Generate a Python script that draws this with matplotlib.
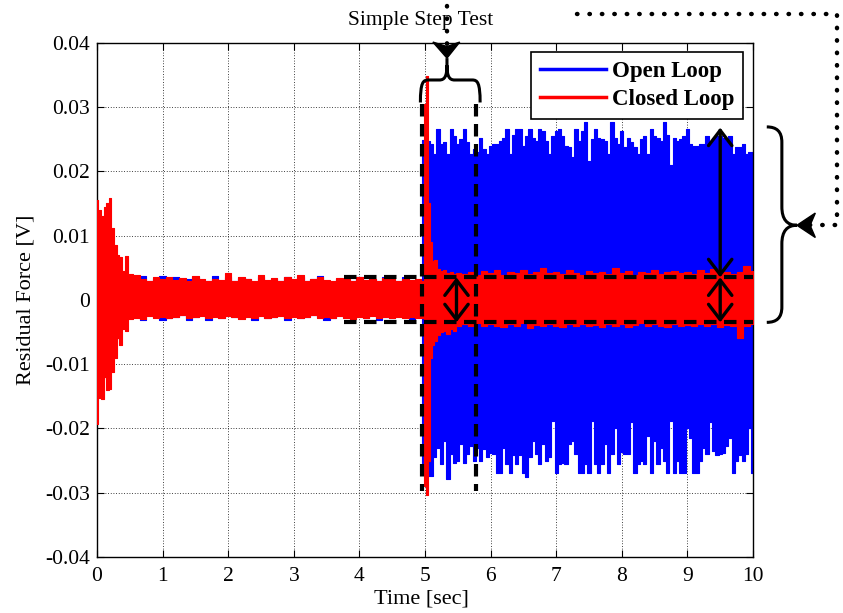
import numpy as np
import matplotlib
matplotlib.use('Agg')
import matplotlib.pyplot as plt
from matplotlib.path import Path
from matplotlib.patches import PathPatch, Polygon, FancyArrowPatch
from matplotlib.lines import Line2D

plt.rcParams['font.family'] = ['Liberation Serif', 'DejaVu Serif']

# ---- Open loop (blue) envelope ----
# before the step: 0.0 .. 4.9 s, every 0.1 s
blue_pre_hi = [0.0120, 0.0120, 0.0100, 0.0060, 0.0040, 0.0030, 0.0032, 0.0037, 0.0029, 0.0033,
               0.0037, 0.0031, 0.0036, 0.0030, 0.0032, 0.0036, 0.0030, 0.0029, 0.0037, 0.0030,
               0.0036, 0.0029, 0.0034, 0.0032, 0.0028, 0.0036, 0.0030, 0.0033, 0.0029, 0.0036,
               0.0031, 0.0035, 0.0029, 0.0032, 0.0037, 0.0030, 0.0028, 0.0033, 0.0031, 0.0029,
               0.0036, 0.0030, 0.0032, 0.0029, 0.0036, 0.0031, 0.0029, 0.0035, 0.0030, 0.0031]
blue_pre_lo = [-0.0150, -0.0120, -0.0100, -0.0060, -0.0040, -0.0029, -0.0026, -0.0031, -0.0024, -0.0027,
               -0.0031, -0.0028, -0.0026, -0.0023, -0.0031, -0.0026, -0.0024, -0.0032, -0.0025, -0.0028,
               -0.0024, -0.0026, -0.0029, -0.0025, -0.0031, -0.0024, -0.0028, -0.0026, -0.0024, -0.0031,
               -0.0025, -0.0028, -0.0026, -0.0023, -0.0027, -0.0031, -0.0028, -0.0024, -0.0026, -0.0030,
               -0.0025, -0.0028, -0.0024, -0.0031, -0.0026, -0.0028, -0.0025, -0.0027, -0.0031, -0.0027]
# after the step: 5.00 .. 10.00 s, every 0.05 s
blue_post_hi = [0.0248, 0.0247, 0.0242, 0.0227, 0.0265, 0.0242, 0.0245, 0.0227, 0.0265, 0.0255,
                0.0242, 0.0250, 0.0265, 0.0245, 0.0227, 0.0235, 0.0230, 0.0252, 0.0235, 0.0227,
                0.0240, 0.0242, 0.0242, 0.0247, 0.0252, 0.0265, 0.0227, 0.0257, 0.0265, 0.0265,
                0.0240, 0.0255, 0.0265, 0.0252, 0.0247, 0.0265, 0.0262, 0.0247, 0.0227, 0.0255,
                0.0262, 0.0265, 0.0255, 0.0240, 0.0237, 0.0222, 0.0265, 0.0247, 0.0262, 0.0276,
                0.0216, 0.0250, 0.0265, 0.0252, 0.0250, 0.0247, 0.0227, 0.0276, 0.0252, 0.0242,
                0.0262, 0.0237, 0.0252, 0.0245, 0.0237, 0.0227, 0.0250, 0.0255, 0.0227, 0.0265,
                0.0255, 0.0252, 0.0247, 0.0276, 0.0257, 0.0210, 0.0252, 0.0247, 0.0250, 0.0255,
                0.0265, 0.0242, 0.0240, 0.0240, 0.0242, 0.0242, 0.0255, 0.0242, 0.0252, 0.0255,
                0.0255, 0.0252, 0.0247, 0.0255, 0.0227, 0.0237, 0.0237, 0.0242, 0.0227, 0.0230,
                0.0230]
blue_post_lo = [-0.0270, -0.0274, -0.0274, -0.0245, -0.0230, -0.0256, -0.0220, -0.0278, -0.0240, -0.0254,
                -0.0250, -0.0225, -0.0254, -0.0240, -0.0228, -0.0250, -0.0230, -0.0250, -0.0232, -0.0245,
                -0.0238, -0.0240, -0.0269, -0.0269, -0.0230, -0.0255, -0.0269, -0.0242, -0.0256, -0.0242,
                -0.0269, -0.0276, -0.0245, -0.0219, -0.0240, -0.0256, -0.0225, -0.0250, -0.0245, -0.0188,
                -0.0269, -0.0256, -0.0254, -0.0256, -0.0225, -0.0219, -0.0240, -0.0269, -0.0269, -0.0256,
                -0.0269, -0.0188, -0.0256, -0.0269, -0.0256, -0.0225, -0.0269, -0.0240, -0.0200, -0.0256,
                -0.0236, -0.0240, -0.0240, -0.0190, -0.0269, -0.0256, -0.0250, -0.0256, -0.0212, -0.0269,
                -0.0219, -0.0256, -0.0230, -0.0250, -0.0269, -0.0188, -0.0269, -0.0250, -0.0269, -0.0269,
                -0.0200, -0.0215, -0.0269, -0.0269, -0.0250, -0.0230, -0.0240, -0.0190, -0.0235, -0.0242,
                -0.0240, -0.0238, -0.0228, -0.0215, -0.0269, -0.0250, -0.0242, -0.0250, -0.0240, -0.0200,
                -0.0269]

# ---- Closed loop (red) envelope ----
red_t = [0.00, 0.02, 0.05, 0.08, 0.12, 0.16, 0.20, 0.24, 0.28, 0.32, 0.36, 0.40, 0.45, 0.50,
         0.6, 0.7, 0.8, 0.9, 1.0, 1.1, 1.2, 1.3, 1.4, 1.5, 1.6, 1.7, 1.8, 1.9,
         2.0, 2.1, 2.2, 2.3, 2.4, 2.5, 2.6, 2.7, 2.8, 2.9, 3.0, 3.1, 3.2, 3.3, 3.4, 3.5,
         3.6, 3.7, 3.8, 3.9, 4.0, 4.1, 4.2, 4.3, 4.4, 4.5, 4.6, 4.7, 4.8, 4.9, 4.98,
         5.00, 5.03, 5.06, 5.09, 5.12, 5.16, 5.20, 5.25, 5.30, 5.35, 5.40, 5.45, 5.50,
         5.6, 5.7, 5.8, 5.9, 6.0, 6.1, 6.2, 6.3, 6.4, 6.5, 6.6, 6.7, 6.8, 6.9,
         7.0, 7.1, 7.2, 7.3, 7.4, 7.5, 7.6, 7.7, 7.8, 7.9, 8.0, 8.1, 8.2, 8.3, 8.4,
         8.5, 8.6, 8.7, 8.8, 8.9, 9.0, 9.1, 9.2, 9.3, 9.4, 9.5, 9.6, 9.7, 9.8, 9.9, 10.0]
red_hi = [0.0155, 0.0120, 0.0140, 0.0130, 0.0145, 0.0150, 0.0158, 0.0112, 0.0085, 0.0070,
          0.0066, 0.0045, 0.0068, 0.0040,
          0.0038, 0.0033, 0.0030, 0.0035, 0.0032, 0.0036, 0.0031, 0.0034, 0.0030, 0.0037,
          0.0032, 0.0029, 0.0033, 0.0031,
          0.0041, 0.0030, 0.0036, 0.0033, 0.0029, 0.0038, 0.0031, 0.0034, 0.0030, 0.0035,
          0.0032, 0.0038, 0.0030, 0.0033, 0.0036, 0.0031,
          0.0029, 0.0034, 0.0032, 0.0030, 0.0035, 0.0031, 0.0033, 0.0030, 0.0034, 0.0032,
          0.0030, 0.0033, 0.0031, 0.0032, 0.0030,
          0.0305, 0.0348, 0.0150, 0.0090, 0.0060, 0.0062, 0.0048, 0.0045, 0.0047, 0.0042,
          0.0044, 0.0040, 0.0042,
          0.0040, 0.0044, 0.0038, 0.0045, 0.0041, 0.0047, 0.0039, 0.0044, 0.0042, 0.0046,
          0.0040, 0.0043, 0.0049, 0.0041,
          0.0044, 0.0040, 0.0046, 0.0042, 0.0039, 0.0045, 0.0041, 0.0043, 0.0040, 0.0050,
          0.0042, 0.0045, 0.0039, 0.0044, 0.0041,
          0.0047, 0.0040, 0.0043, 0.0045, 0.0041, 0.0044, 0.0040, 0.0046, 0.0042, 0.0048,
          0.0041, 0.0044, 0.0040, 0.0043, 0.0052, 0.0045]
red_lo = [-0.0193, -0.0150, -0.0152, -0.0155, -0.0120, -0.0140, -0.0139, -0.0113, -0.0090, -0.0060,
          -0.0070, -0.0045, -0.0048, -0.0030,
          -0.0028, -0.0030, -0.0025, -0.0028, -0.0026, -0.0029, -0.0027, -0.0024, -0.0029, -0.0027,
          -0.0025, -0.0028, -0.0026, -0.0029,
          -0.0025, -0.0027, -0.0030, -0.0026, -0.0028, -0.0025, -0.0029, -0.0027, -0.0025, -0.0028,
          -0.0026, -0.0029, -0.0027, -0.0024, -0.0028, -0.0026,
          -0.0029, -0.0025, -0.0028, -0.0030, -0.0026, -0.0029, -0.0025, -0.0028, -0.0027, -0.0029,
          -0.0026, -0.0028, -0.0027, -0.0029, -0.0028,
          -0.0290, -0.0303, -0.0250, -0.0090, -0.0070, -0.0064, -0.0055, -0.0050, -0.0048, -0.0053,
          -0.0046, -0.0048, -0.0040,
          -0.0038, -0.0040, -0.0036, -0.0041, -0.0037, -0.0040, -0.0043, -0.0038, -0.0041, -0.0036,
          -0.0044, -0.0039, -0.0041, -0.0037,
          -0.0040, -0.0042, -0.0038, -0.0040, -0.0037, -0.0041, -0.0039, -0.0042, -0.0037, -0.0040,
          -0.0038, -0.0043, -0.0039, -0.0036, -0.0041,
          -0.0038, -0.0040, -0.0042, -0.0037, -0.0040, -0.0039, -0.0041, -0.0038, -0.0040, -0.0037,
          -0.0042, -0.0039, -0.0041, -0.0060, -0.0040, -0.0038]

x_ticks = list(range(0, 11))
y_ticks = [-0.04, -0.03, -0.02, -0.01, 0.0, 0.01, 0.02, 0.03, 0.04]
y_tick_labels = ['-0.04', '-0.03', '-0.02', '-0.01', '0', '0.01', '0.02', '0.03', '0.04']

blue_t = np.concatenate([np.arange(len(blue_pre_hi)) * 0.1,
                         5.0 + np.arange(len(blue_post_hi)) * 0.05])
blue_hi = np.array(blue_pre_hi + blue_post_hi)
blue_lo = np.array(blue_pre_lo + blue_post_lo)

fig = plt.figure(figsize=(8.43, 6.13), dpi=100)
ax = fig.add_axes([97 / 843, 1 - 557 / 613, 656 / 843, (557 - 42.7) / 613])

ax.fill_between(blue_t, blue_lo, blue_hi, step='mid', facecolor='#0000ff',
                edgecolor='#0000ff', linewidth=0.8, zorder=2)
ax.fill_between(red_t, red_lo, red_hi, step='mid', facecolor='#ff0000',
                edgecolor='#ff0000', linewidth=0.8, zorder=3)

ax.set_xlim(0, 10)
ax.set_ylim(-0.04, 0.04)
ax.set_xticks(x_ticks)
ax.set_yticks(y_ticks)
ax.set_yticklabels(y_tick_labels)
ax.tick_params(direction='in', length=5, width=0.8, top=True, right=True,
               labelsize=15.5, pad=5)
ax.tick_params(axis='x', pad=7)
ax.set_axisbelow(True)
ax.grid(True, color='k', linestyle=(0, (1, 2.2)), linewidth=0.6)
for sp in ax.spines.values():
    sp.set_linewidth(1.0)

ax.set_xlabel('Time [sec]', fontsize=16, va='top')
ax.xaxis.set_label_coords(0.495, -0.064)
ax.set_ylabel('Residual Force [V]', fontsize=16)
ax.yaxis.set_label_coords(-0.094, 0.5)

leg_handles = [Line2D([], [], color='#0000ff', lw=2.5),
               Line2D([], [], color='#ff0000', lw=2.5)]
leg = ax.legend(leg_handles, ['Open Loop', 'Closed Loop'], loc='upper right',
                bbox_to_anchor=(0.985, 0.981), borderaxespad=0, fancybox=False,
                framealpha=1, edgecolor='k', handlelength=2.9, handletextpad=0.25,
                labelspacing=0.3, borderpad=0.38, prop={'weight': 'bold', 'size': 16.5})
leg.get_frame().set_linewidth(1.2)
leg.set_zorder(6)

# ---- annotations ----
dash = (0, (3, 1.8))
for yv in (0.0035, -0.0035):
    ax.plot([3.77, 10.0], [yv, yv], color='k', lw=3, linestyle=dash, zorder=5, clip_on=False)
for xv in (4.96, 5.78):
    ax.plot([xv, xv], [0.0305, -0.0298], color='k', lw=3, linestyle=dash, zorder=5)

arrow_kw = dict(arrowstyle='<->,head_length=0.55,head_width=0.42', mutation_scale=20,
                color='k', lw=2.4, zorder=7, shrinkA=0, shrinkB=0, clip_on=False)
for (x0, y0, y1) in [(5.48, 0.0035, -0.0035), (9.5, 0.0035, -0.0035), (9.5, 0.0268, 0.0035)]:
    ax.add_patch(FancyArrowPatch((x0, y0), (x0, y1), **arrow_kw))

# brace above the step
top_brace = Path(
    [(4.93, 0.0307), (4.93, 0.0338), (4.97, 0.0342), (5.05, 0.0342),
     (5.22, 0.0342), (5.30, 0.0342), (5.335, 0.0348), (5.335, 0.0365),
     (5.335, 0.0376), (5.335, 0.0365),
     (5.335, 0.0348), (5.37, 0.0342), (5.45, 0.0342),
     (5.72, 0.0342), (5.80, 0.0342), (5.84, 0.0338), (5.84, 0.0307)],
    [Path.MOVETO, Path.CURVE4, Path.CURVE4, Path.CURVE4,
     Path.LINETO, Path.CURVE4, Path.CURVE4, Path.CURVE4,
     Path.LINETO, Path.MOVETO,
     Path.CURVE4, Path.CURVE4, Path.CURVE4,
     Path.LINETO, Path.CURVE4, Path.CURVE4, Path.CURVE4])
ax.add_patch(PathPatch(top_brace, fill=False, lw=2.2, color='k', zorder=7, clip_on=False))

# brace right of the axes
right_brace = Path(
    [(10.21, 0.0269), (10.36, 0.0269), (10.44, 0.0262), (10.44, 0.0245),
     (10.44, 0.0145), (10.44, 0.0125), (10.52, 0.0116), (10.67, 0.0116),
     (10.52, 0.0116), (10.44, 0.0107), (10.44, 0.0087),
     (10.44, -0.0011), (10.44, -0.0028), (10.36, -0.0035), (10.21, -0.0035)],
    [Path.MOVETO, Path.CURVE4, Path.CURVE4, Path.CURVE4,
     Path.LINETO, Path.CURVE4, Path.CURVE4, Path.CURVE4,
     Path.CURVE4, Path.CURVE4, Path.CURVE4,
     Path.LINETO, Path.CURVE4, Path.CURVE4, Path.CURVE4])
ax.add_patch(PathPatch(right_brace, fill=False, lw=2.2, color='k', zorder=7, clip_on=False))

# dotted leaders
dots = dict(color='k', lw=3.2, linestyle=(0, (0.1, 2.7)), dash_capstyle='round',
            zorder=8, clip_on=False)
ax.plot([5.335, 5.335], [0.0457, 0.0398], **dots)
ax.plot([7.32, 11.28, 11.28, 10.85], [0.0445, 0.0445, 0.0116, 0.0116], **dots)

ax.add_patch(Polygon([(5.12, 0.0401), (5.335, 0.0394), (5.53, 0.0401), (5.335, 0.0376)],
                     closed=True, color='k', zorder=8, clip_on=False))
ax.add_patch(Polygon([(10.95, 0.0135), (10.87, 0.0116), (10.95, 0.0097), (10.67, 0.0116)],
                     closed=True, color='k', zorder=8, clip_on=False))

ax.text(4.94, 0.0435, 'Simple Step Test', ha='center', va='center', fontsize=15.5, zorder=6)

fig.savefig('out.png', dpi=100)
